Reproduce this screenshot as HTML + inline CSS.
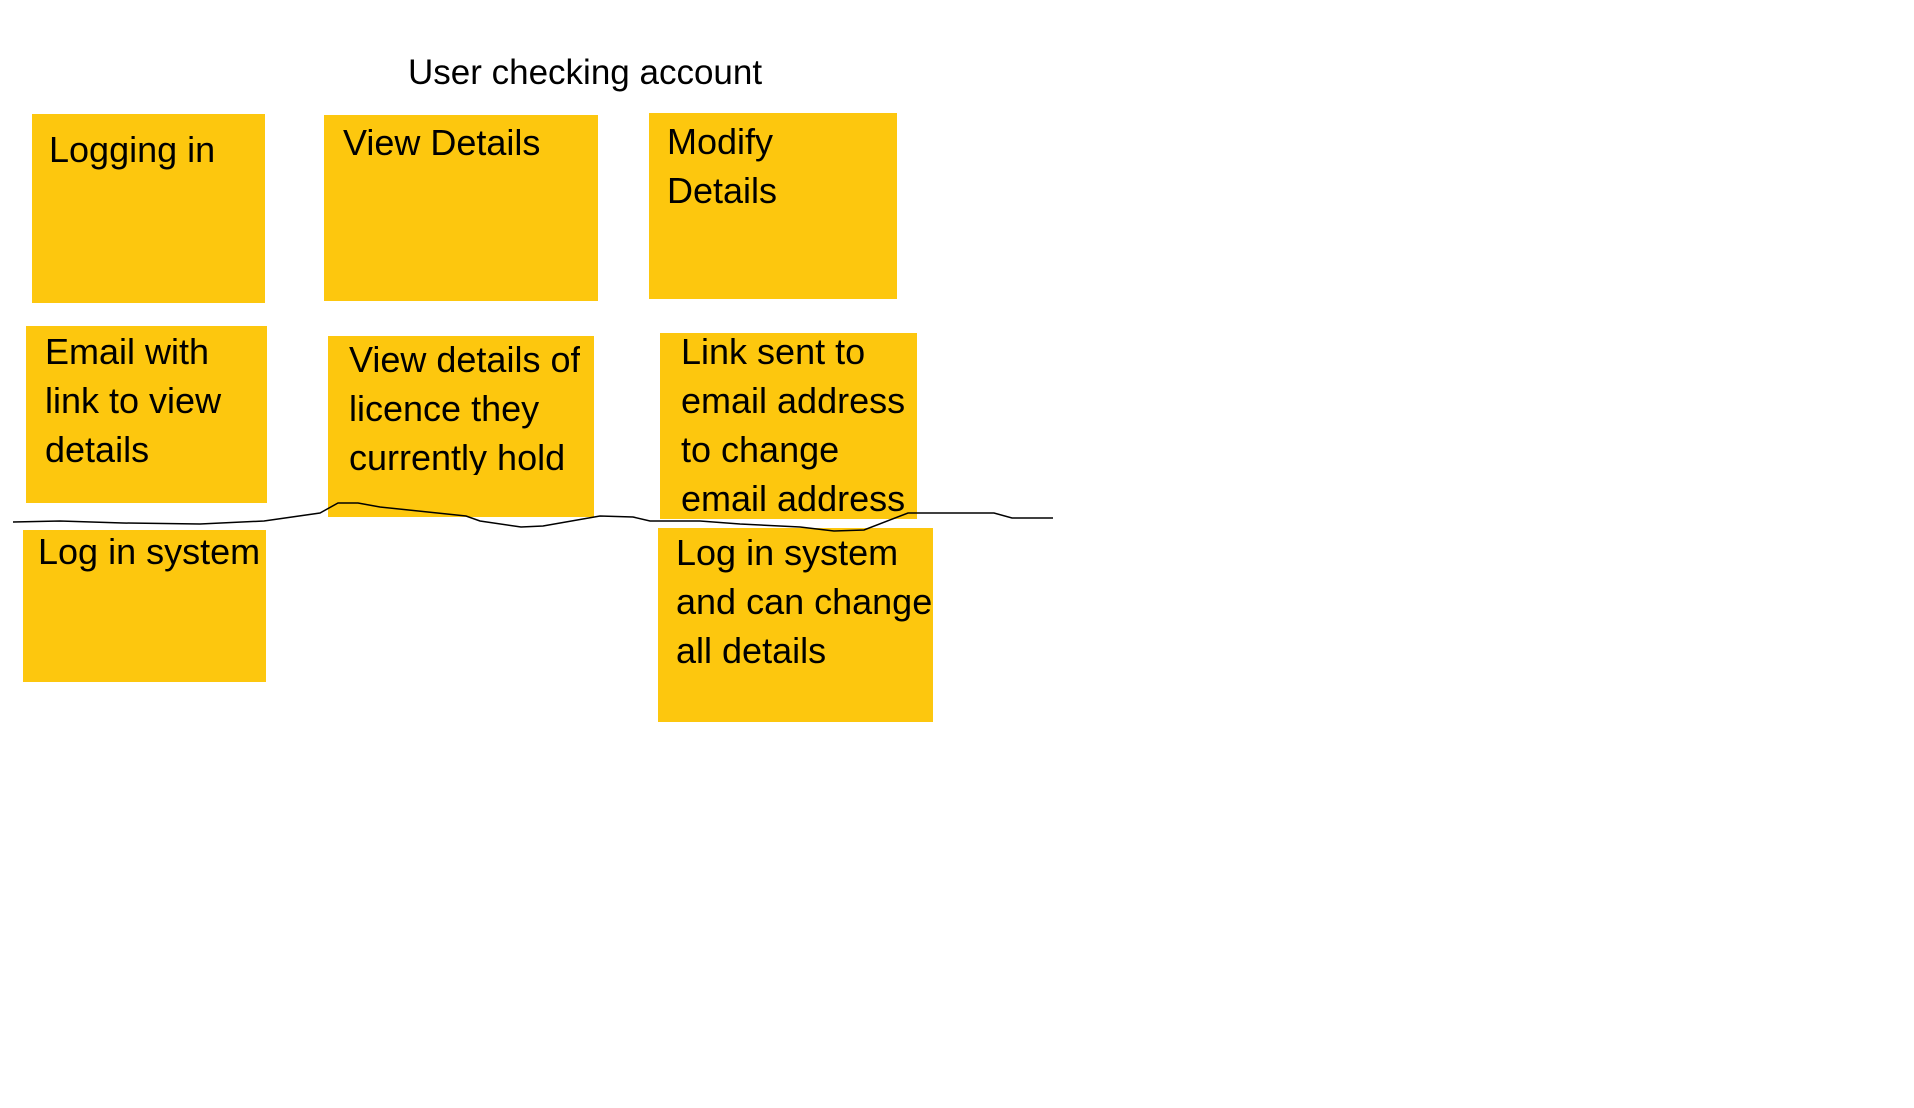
<!DOCTYPE html>
<html><head><meta charset="utf-8"><style>
html,body{margin:0;padding:0;background:#fff;width:1914px;height:1108px;overflow:hidden;position:relative;font-family:"Liberation Sans",sans-serif;}
.b{position:absolute;background:#FDC70E;}
.t{position:absolute;font-size:36px;line-height:49px;color:#000;white-space:nowrap;}
</style></head><body>
<div class="t" style="left:408px;top:48px;font-size:35px;">User checking account</div>

<div class="b" style="left:32px;top:114px;width:233px;height:189px;"></div>
<div class="b" style="left:324px;top:115px;width:274px;height:186px;"></div>
<div class="b" style="left:649px;top:113px;width:248px;height:186px;"></div>
<div class="b" style="left:26px;top:326px;width:241px;height:177px;"></div>
<div class="b" style="left:328px;top:336px;width:266px;height:181px;"></div>
<div class="b" style="left:660px;top:333px;width:257px;height:186px;"></div>
<div class="b" style="left:23px;top:530px;width:243px;height:152px;"></div>
<div class="b" style="left:658px;top:528px;width:275px;height:194px;"></div>

<div class="t" style="left:49px;top:125px;">Logging in</div>
<div class="t" style="left:343px;top:118px;">View Details</div>
<div class="t" style="left:667px;top:117px;">Modify<br>Details</div>
<div class="t" style="left:45px;top:327px;">Email with<br>link to view<br>details</div>
<div class="t" style="left:349px;top:335px;height:140px;overflow:hidden;">View details of<br>licence they<br>currently hold</div>
<div class="t" style="left:681px;top:327px;">Link sent to<br>email address<br>to change<br>email address</div>
<div class="t" style="left:38px;top:527px;">Log in system</div>
<div class="t" style="left:676px;top:528px;">Log in system<br>and can change<br>all details</div>

<svg style="position:absolute;left:0;top:0" width="1914" height="1108">
<polyline fill="none" stroke="#000" stroke-width="1.5" points="13,522 60,521 123,523 200,524 264,521 320,513 338,503 358,503 380,507 466,516 480,521 521,527 543,526 600,516 633,517 650,521 700,521 740,524 800,527 834,531 864,530 908,513 994,513 1012,518 1053,518"/>
</svg>
</body></html>
